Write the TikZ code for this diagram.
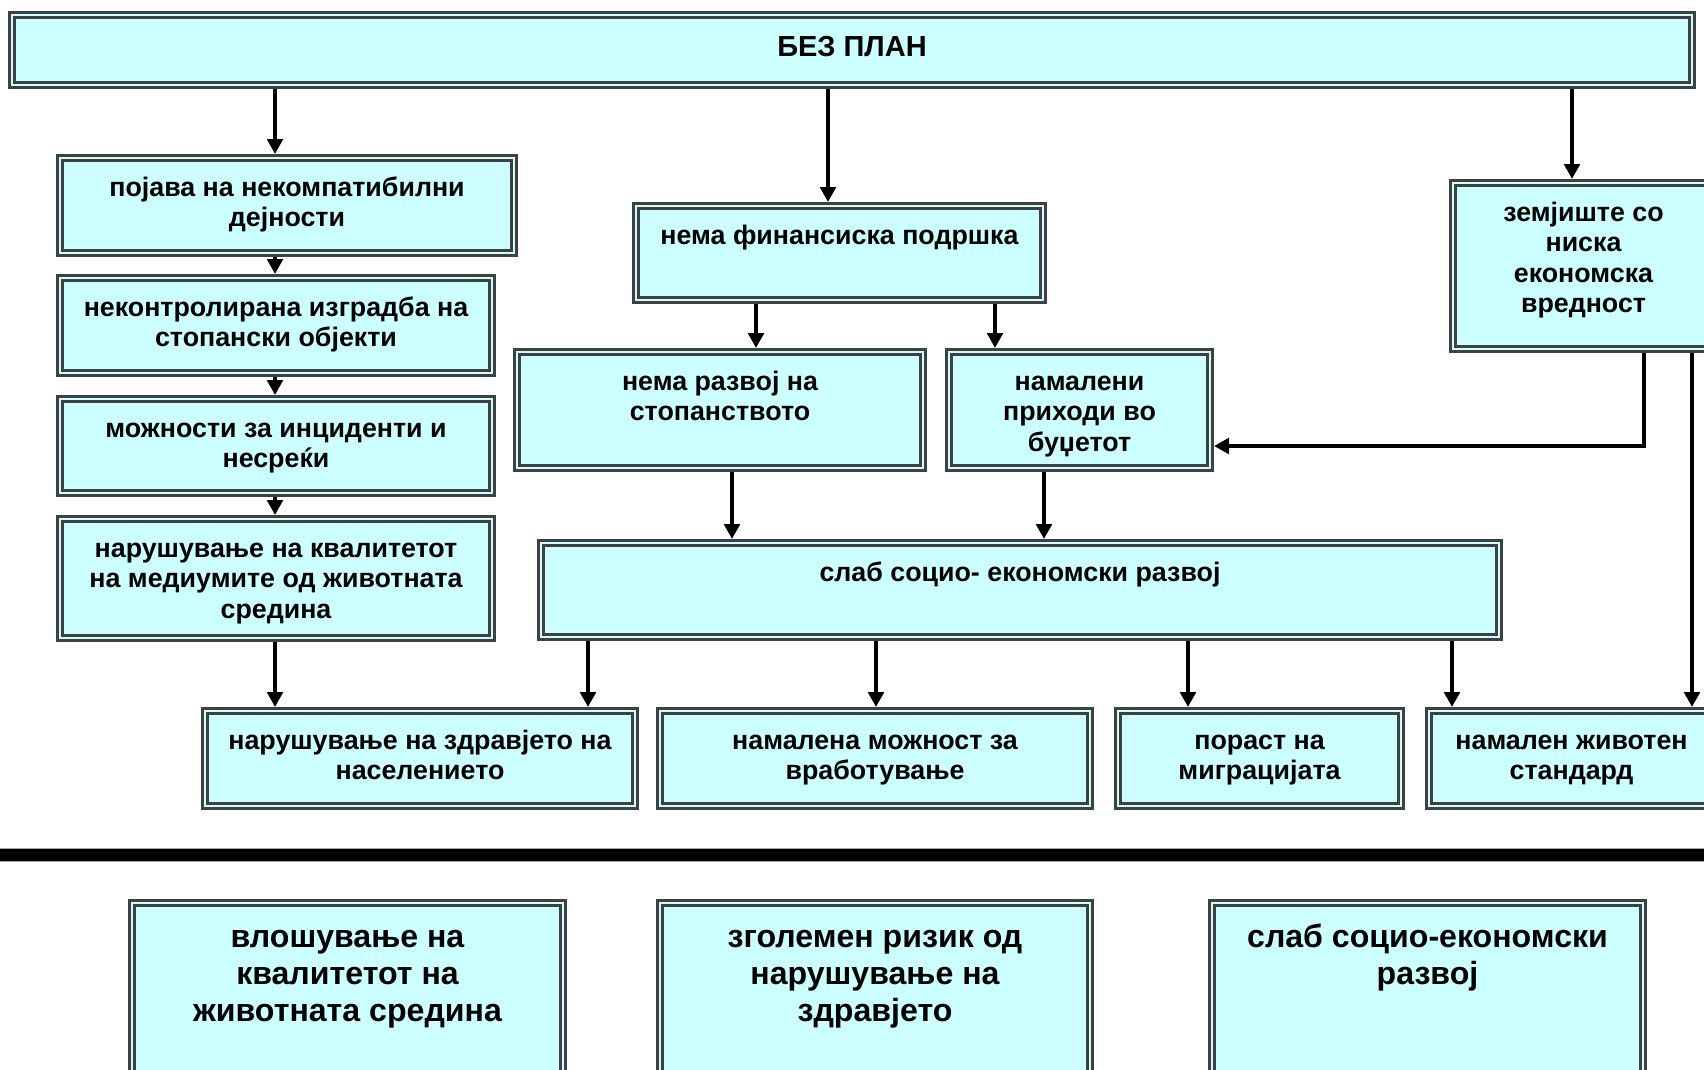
\documentclass[tikz,border=0pt]{standalone}
\usepackage{fontspec}
\setmainfont{Liberation Sans}
\usetikzlibrary{arrows.meta}
\definecolor{boxfill}{HTML}{CCFFFF}
\definecolor{boxline}{HTML}{404040}
\newcommand\mystrut{\rule{0pt}{23pt}}
\newcommand\mybigstrut{\rule{0pt}{27pt}}
\tikzset{
  box/.style={rectangle, draw=boxline, line width=2.6pt, double=boxfill,
    double distance=2.4pt, fill=boxfill, outer sep=3.8pt, inner sep=0pt},
  txt/.style={inner sep=0pt, align=center, anchor=north,
    font=\fontsize{26.8}{30.5}\selectfont\bfseries},
  titletxt/.style={inner sep=0pt, align=center, anchor=north,
    font=\fontsize{29}{32}\selectfont\bfseries},
  bigtxt/.style={inner sep=0pt, align=center, anchor=north,
    font=\fontsize{32.1}{37}\selectfont\bfseries},
  arr/.style={line width=4.5pt, -{Triangle[width=15.5pt,length=15pt]}},
}
\begin{document}
\begin{tikzpicture}[x=1pt,y=-1pt]
\useasboundingbox (0,0) rectangle (1704,1070);
\clip (0,0) rectangle (1704,1070);

% boxes
\node[box, minimum width=1680.4pt, minimum height=70.4pt] (top) at (852,50) {};
\node[box, minimum width=454.4pt, minimum height=95.4pt] (poj) at (287,205.5) {};
\node[box, minimum width=432.4pt, minimum height=95.4pt] (nek) at (276,325.5) {};
\node[box, minimum width=432.4pt, minimum height=94.4pt] (moz) at (276,446) {};
\node[box, minimum width=432.4pt, minimum height=119.4pt] (nkv) at (276,578.5) {};
\node[box, minimum width=407.4pt, minimum height=94.4pt] (fin) at (839.5,253) {};
\node[box, minimum width=406.4pt, minimum height=116.4pt] (raz) at (720,410) {};
\node[box, minimum width=261.4pt, minimum height=116.4pt] (pri) at (1079.5,410) {};
\node[box, minimum width=261.4pt, minimum height=166.4pt] (zem) at (1583.5,266) {};
\node[box, minimum width=958.4pt, minimum height=94.4pt] (sla) at (1020,590) {};
\node[box, minimum width=430.4pt, minimum height=95.4pt] (zdr) at (420,758.5) {};
\node[box, minimum width=430.4pt, minimum height=95.4pt] (vra) at (875,758.5) {};
\node[box, minimum width=283.4pt, minimum height=95.4pt] (mig) at (1259.5,758.5) {};
\node[box, minimum width=285.4pt, minimum height=95.4pt] (ziv) at (1571.5,758.5) {};
\node[box, minimum width=431.4pt, minimum height=183.4pt] (b1) at (347.5,994.5) {};
\node[box, minimum width=430.4pt, minimum height=183.4pt] (b2) at (875,994.5) {};
\node[box, minimum width=431.4pt, minimum height=183.4pt] (b3) at (1427.5,994.5) {};

% texts
\node[titletxt] (top-t) at ([yshift=-22pt]top.north) {\mystrut БЕЗ ПЛАН};
\node[txt] (poj-t) at ([yshift=-19pt]poj.north) {\mystrut појава на некомпатибилни\\дејности};
\node[txt] (nek-t) at ([yshift=-19pt]nek.north) {\mystrut неконтролирана изградба на\\стопански објекти};
\node[txt] (moz-t) at ([yshift=-19pt]moz.north) {\mystrut можности за инциденти и\\несреќи};
\node[txt] (nkv-t) at ([yshift=-19pt]nkv.north) {\mystrut нарушување на квалитетот\\на медиумите од животната\\средина};
\node[txt] (fin-t) at ([yshift=-19pt]fin.north) {\mystrut нема финансиска подршка};
\node[txt] (raz-t) at ([yshift=-19pt]raz.north) {\mystrut нема развој на\\стопанството};
\node[txt] (pri-t) at ([yshift=-19pt]pri.north) {\mystrut намалени\\приходи во\\буџетот};
\node[txt] (zem-t) at ([yshift=-19pt]zem.north) {\mystrut земјиште со\\ниска\\економска\\вредност};
\node[txt] (sla-t) at ([yshift=-19pt]sla.north) {\mystrut слаб социо- економски развој};
\node[txt] (zdr-t) at ([yshift=-19pt]zdr.north) {\mystrut нарушување на здравјето на\\населението};
\node[txt] (vra-t) at ([yshift=-19pt]vra.north) {\mystrut намалена можност за\\вработување};
\node[txt] (mig-t) at ([yshift=-19pt]mig.north) {\mystrut пораст на\\миграцијата};
\node[txt] (ziv-t) at ([yshift=-19pt]ziv.north) {\mystrut намален животен\\стандард};
\node[bigtxt] (b1-t) at ([yshift=-21pt]b1.north) {\mybigstrut влошување на\\квалитетот на\\животната средина};
\node[bigtxt] (b2-t) at ([yshift=-21pt]b2.north) {\mybigstrut зголемен ризик од\\нарушување на\\здравјето};
\node[bigtxt] (b3-t) at ([yshift=-21pt]b3.north) {\mybigstrut слаб социо-економски\\развој};

% arrow x positions
\coordinate (xL) at (275,0);
\coordinate (xF) at (828,0);
\coordinate (xZ) at (1572,0);
\coordinate (xF1) at (756,0);
\coordinate (xF2) at (995,0);
\coordinate (xR) at (732,0);
\coordinate (xP) at (1044,0);
\coordinate (xZ1) at (1644,0);
\coordinate (xZ2) at (1692,0);
\coordinate (xS1) at (588,0);
\coordinate (xS2) at (876,0);
\coordinate (xS3) at (1188,0);
\coordinate (xS4) at (1452,0);
\coordinate (hz) at (0,446);

% connectors
\draw[arr] (xL |- top.south) -- (xL |- poj.north);
\draw[arr] (xF |- top.south) -- (xF |- fin.north);
\draw[arr] (xZ |- top.south) -- (xZ |- zem.north);
\draw[arr] (xL |- poj.south) -- (xL |- nek.north);
\draw[arr] (xL |- nek.south) -- (xL |- moz.north);
\draw[arr] (xL |- moz.south) -- (xL |- nkv.north);
\draw[arr] (xL |- nkv.south) -- (xL |- zdr.north);
\draw[arr] (xF1 |- fin.south) -- (xF1 |- raz.north);
\draw[arr] (xF2 |- fin.south) -- (xF2 |- pri.north);
\draw[arr] (xR |- raz.south) -- (xR |- sla.north);
\draw[arr] (xP |- pri.south) -- (xP |- sla.north);
\draw[arr] (xZ1 |- zem.south) -- (xZ1 |- hz) -- (pri.east |- hz);
\draw[arr] (xZ2 |- zem.south) -- (xZ2 |- ziv.north);
\draw[arr] (xS1 |- sla.south) -- (xS1 |- zdr.north);
\draw[arr] (xS2 |- sla.south) -- (xS2 |- vra.north);
\draw[arr] (xS3 |- sla.south) -- (xS3 |- mig.north);
\draw[arr] (xS4 |- sla.south) -- (xS4 |- ziv.north);

% separator
\draw[line width=14pt, gray!70] (0,854.5) -- (1704,854.5);
\draw[line width=12pt, black] (0,854.5) -- (1704,854.5);
\end{tikzpicture}
\end{document}
